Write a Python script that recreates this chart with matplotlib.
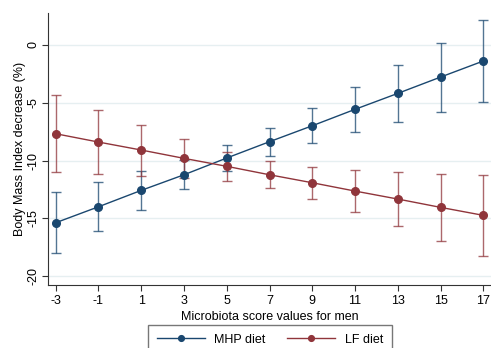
import matplotlib.pyplot as plt
import numpy as np

plt.rcParams['font.family'] = ['Liberation Sans', 'DejaVu Sans']
plt.rcParams['axes.unicode_minus'] = False

# Microbiota score values and predicted BMI decrease with 95% CI
score = [-3, -1, 1, 3, 5, 7, 9, 11, 13, 15, 17]

mhp_mean = [-15.38, -14.0, -12.58, -11.23, -9.78, -8.37, -6.99, -5.57, -4.19, -2.78, -1.39]
mhp_lo = [-18.0, -16.1, -14.26, -12.49, -10.9, -9.58, -8.49, -7.56, -6.67, -5.78, -4.91]
mhp_hi = [-12.75, -11.86, -10.88, -9.97, -8.63, -7.16, -5.43, -3.62, -1.74, 0.19, 2.13]

lf_mean = [-7.68, -8.40, -9.09, -9.81, -10.5, -11.23, -11.92, -12.64, -13.33, -14.05, -14.74]
lf_lo = [-11.02, -11.14, -11.3, -11.5, -11.77, -12.38, -13.3, -14.43, -15.67, -16.96, -18.24]
lf_hi = [-4.34, -5.63, -6.9, -8.11, -9.24, -10.07, -10.56, -10.85, -11.02, -11.14, -11.23]

blue = '#1a476f'
red = '#90353b'

fig = plt.figure(figsize=(4.91, 3.48), dpi=100)
ax = fig.add_axes([48 / 491, 1 - 284.7 / 348, 1 - 48 / 491, (284.7 - 12.7) / 348])

for mean, lo, hi, col, lab in [(mhp_mean, mhp_lo, mhp_hi, blue, 'MHP diet'),
                               (lf_mean, lf_lo, lf_hi, red, 'LF diet')]:
    mean = np.array(mean)
    err = [mean - np.array(lo), np.array(hi) - mean]
    ax.errorbar(score, mean, yerr=err, fmt='none', ecolor=col, alpha=0.75,
                elinewidth=1.0, capsize=3.5, capthick=1.0, zorder=2)
    ax.plot(score, mean, '-o', color=col, lw=1.0, ms=5.5, label=lab, zorder=3)

ax.set_xlim(-3.36, 17.36)
ax.set_ylim(-20.74, 2.79)
ax.set_xticks(score)
ax.set_yticks([-20, -15, -10, -5, 0])
ax.set_yticklabels(['-20', '-15', '-10', '-5', '0'], rotation=90, va='center')
ax.tick_params(labelsize=9, length=4.5, width=0.8, color='#333333')
ax.tick_params(axis='x', pad=3)
ax.tick_params(axis='y', pad=1.5)
ax.grid(axis='y', color='#e6eff1', lw=1.0)
ax.set_axisbelow(True)
for s in ['top', 'right']:
    ax.spines[s].set_visible(False)
for s in ['left', 'bottom']:
    ax.spines[s].set_color('#333333')
    ax.spines[s].set_linewidth(0.8)

ax.set_xlabel('Microbiota score values for men', fontsize=9, labelpad=2.5)
ax.set_ylabel('Body Mass Index decrease (%)', fontsize=9)
ax.yaxis.set_label_coords(-0.05, 0.5)

fig.legend(loc='upper center', bbox_to_anchor=(270 / 491, 1 - 325 / 348), ncol=2,
           fontsize=9, handlelength=3.85, handletextpad=0.75, columnspacing=1.7,
           frameon=True, fancybox=False, edgecolor='#555555', borderpad=0.7,
           borderaxespad=0, markerscale=0.75)

plt.savefig('out.png', dpi=100)
